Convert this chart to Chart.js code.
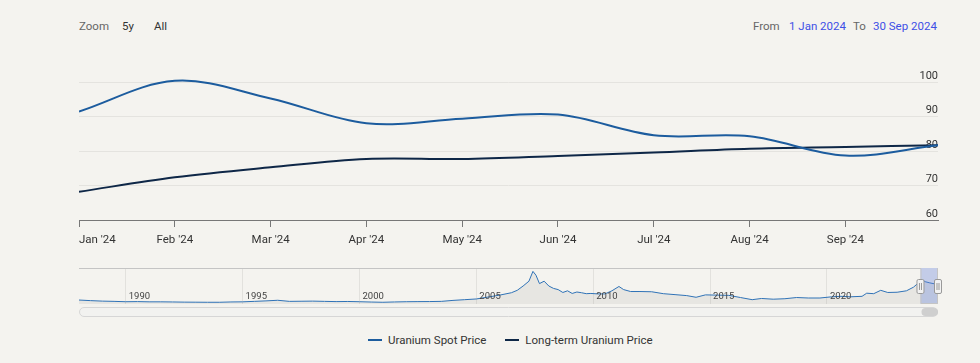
<!DOCTYPE html>
<html>
<head>
<meta charset="utf-8">
<script src="https://cdn.jsdelivr.net/npm/chart.js@4.4.1/dist/chart.umd.min.js"></script>
<style>
  body { margin: 0; background: #f4f3ef; font-family: Roboto, "Noto Sans", sans-serif; }
  #wrap { position: relative; width: 980px; height: 363px; overflow: hidden; }
  canvas { position: absolute; left: 0; }
  .t { position: absolute; font-size: 11.5px; white-space: nowrap; line-height: 14px; }
  .legend { position: absolute; top: 333px; left: 368px; display: flex; font-size: 11.5px; color: #333; line-height: 14px; }
  .legend span.item { display: flex; align-items: center; margin-right: 19px; }
  .legend i { display: inline-block; width: 14px; height: 2px; margin-right: 6px; }
</style>
</head>
<body>
<div id="wrap">
  <span class="t" style="left:79px;top:19px;color:#666">Zoom</span>
  <span class="t" style="left:122px;top:19px;color:#333">5y</span>
  <span class="t" style="left:154px;top:19px;color:#333">All</span>
  <span class="t" style="left:753px;top:19px;color:#666">From</span>
  <span class="t" style="left:789px;top:19px;color:#3d50e6">1 Jan 2024</span>
  <span class="t" style="left:853px;top:19px;color:#666">To</span>
  <span class="t" style="left:873px;top:19px;color:#3d50e6">30 Sep 2024</span>

  <canvas id="main" width="980" height="250" style="top:0"></canvas>
  <canvas id="nav" width="980" height="60" style="top:262px"></canvas>

  <div class="legend">
    <span class="item"><i style="background:#1c5c9e"></i>Uranium Spot Price</span>
    <span class="item"><i style="background:#0e2747"></i>Long-term Uranium Price</span>
  </div>
</div>

<script>
// main chart data (monthly, 2024)
const monthLabels = ["Jan '24", "Feb '24", "Mar '24", "Apr '24", "May '24", "Jun '24", "Jul '24", "Aug '24", "Sep '24"];
const pointDates = ['2024-01-01', '2024-02-01', '2024-03-01', '2024-04-01', '2024-05-01',
                    '2024-06-01', '2024-07-01', '2024-08-01', '2024-09-01', '2024-09-30'];
const spotPrice = [91.5, 100.4, 95.3, 88.1, 89.4, 90.6, 84.6, 84.3, 78.7, 81.7];
const longTermPrice = [68.2, 72.4, 75.3, 77.7, 77.7, 78.6, 79.6, 80.7, 81.2, 81.7];
const yTicks = [60, 70, 80, 90, 100];

// navigator: spot price history (decimal year, USD/lb)
const navYears = [1988.0, 1988.5, 1989.0, 1989.5, 1990.0, 1990.5, 1991.0, 1991.5, 1992.0, 1992.5,
  1993.0, 1993.5, 1994.0, 1994.5, 1995.0, 1995.5, 1996.0, 1996.5, 1997.0, 1997.5,
  1998.0, 1998.5, 1999.0, 1999.5, 2000.0, 2000.5, 2001.0, 2001.5, 2002.0, 2002.5,
  2003.0, 2003.5, 2004.0, 2004.5, 2005.0, 2005.5, 2006.0, 2006.5, 2006.75, 2007.0,
  2007.25, 2007.42, 2007.55, 2007.7, 2007.9, 2008.1, 2008.3, 2008.5, 2008.7, 2008.9,
  2009.1, 2009.3, 2009.5, 2009.7, 2009.9, 2010.2, 2010.5, 2010.8, 2011.1, 2011.3,
  2011.6, 2012.0, 2012.5, 2013.0, 2013.5, 2014.0, 2014.4, 2014.8, 2015.3, 2015.8,
  2016.3, 2016.8, 2017.2, 2017.7, 2018.2, 2018.7, 2019.2, 2019.7, 2020.2, 2020.6,
  2021.0, 2021.5, 2021.7, 2022.0, 2022.3, 2022.6, 2023.0, 2023.4, 2023.7, 2023.95,
  2024.08, 2024.2, 2024.4, 2024.6, 2024.75];
const navValues = [16.5, 14, 12, 11, 9.5, 10, 9, 9, 8.5, 7.8,
  7.5, 7.2, 7.2, 8.5, 9, 11, 13, 15.5, 11, 11.5,
  12, 11, 10, 10.5, 9.5, 8.2, 7.2, 8.5, 9.5, 9.9,
  10.2, 11, 15, 18, 21, 29, 37, 47, 57, 75,
  95, 136, 120, 85, 95, 75, 65, 60, 48, 55,
  44, 50, 47, 43, 44, 42, 42, 55, 73, 60,
  52, 52, 51, 43, 39, 35, 28, 38, 37, 36,
  27, 18, 23, 20, 22, 27, 25, 25, 30, 32,
  30, 32, 45, 43, 57, 48, 49, 55, 70, 91,
  100, 93, 88, 84, 82];
const navTickYears = [1990, 1995, 2000, 2005, 2010, 2015, 2020];
const rangeStart = 2024.0;
const rangeEnd = 2024.75;

// position of a date on the monthly axis (month index + fraction)
function monthPos(d) {
  const [y, m, day] = d.split('-').map(Number);
  const daysIn = new Date(y, m, 0).getDate();
  return (m - 1) + (day - 1) / daysIn;
}

const xs = pointDates.map(monthPos);
const toPoints = vals => vals.map((v, i) => ({ x: xs[i], y: v }));

const monthLabelsPlugin = {
  id: 'monthLabels',
  afterDraw(chart) {
    const ctx = chart.ctx;
    const sx = chart.scales.x;
    ctx.save();
    ctx.font = '11.5px Roboto';
    ctx.fillStyle = '#333';
    ctx.textBaseline = 'middle';
    sx.ticks.forEach((t, i) => {
      ctx.textAlign = i === 0 ? 'left' : 'center';
      ctx.fillText(monthLabels[i], sx.getPixelForValue(t.value), sx.bottom + 13);
    });
    ctx.restore();
  }
};

new Chart(document.getElementById('main'), {
  type: 'line',
  data: {
    datasets: [
      {
        label: 'Uranium Spot Price',
        data: toPoints(spotPrice),
        borderColor: '#1c5c9e',
        borderWidth: 2,
        pointRadius: 0,
        tension: 0.35
      },
      {
        label: 'Long-term Uranium Price',
        data: toPoints(longTermPrice),
        borderColor: '#0e2747',
        borderWidth: 2,
        pointRadius: 0,
        tension: 0.35
      }
    ]
  },
  options: {
    responsive: false,
    animation: false,
    layout: { padding: { left: 79, right: 42, top: 65, bottom: 23 } },
    plugins: { legend: { display: false }, tooltip: { enabled: false } },
    scales: {
      x: {
        type: 'linear',
        min: 0,
        max: xs[xs.length - 1],
        afterBuildTicks: s => { s.ticks = monthLabels.map((_, i) => ({ value: i })); },
        ticks: { display: false },
        grid: { drawOnChartArea: false, drawTicks: true, tickLength: 7, color: '#777' },
        border: { color: '#777', width: 1 }
      },
      y: {
        position: 'right',
        min: 60,
        max: 105,
        afterBuildTicks: s => { s.ticks = yTicks.map(v => ({ value: v })); },
        ticks: { mirror: true, padding: 0, labelOffset: -6, color: '#333', font: { family: 'Roboto', size: 11 } },
        grid: { color: '#e4e3df', drawTicks: false },
        border: { display: false }
      }
    }
  },
  plugins: [monthLabelsPlugin]
});

function roundRect(ctx, x, y, w, h, r) {
  ctx.beginPath();
  ctx.moveTo(x + r, y);
  ctx.arcTo(x + w, y, x + w, y + h, r);
  ctx.arcTo(x + w, y + h, x, y + h, r);
  ctx.arcTo(x, y + h, x, y, r);
  ctx.arcTo(x, y, x + w, y, r);
  ctx.closePath();
}

const navigatorPlugin = {
  id: 'navigatorExtras',
  afterDatasetsDraw(chart) {
    const ctx = chart.ctx;
    const sx = chart.scales.x;
    const { left, right, top, bottom } = chart.chartArea;
    const m0 = sx.getPixelForValue(rangeStart);
    const m1 = sx.getPixelForValue(rangeEnd);
    ctx.save();
    // year labels
    ctx.font = '9.5px Roboto';
    ctx.fillStyle = '#444';
    ctx.textBaseline = 'middle';
    ctx.textAlign = 'left';
    navTickYears.forEach(yr => ctx.fillText(String(yr), sx.getPixelForValue(yr) + 3, bottom - 7));
    // mask
    ctx.fillStyle = 'rgba(102,133,220,0.35)';
    ctx.fillRect(m0, top, m1 - m0, bottom - top);
    // outline
    ctx.strokeStyle = '#c4c4c4';
    ctx.lineWidth = 1;
    ctx.beginPath();
    ctx.moveTo(left, top + 0.5);
    ctx.lineTo(m0 + 0.5, top + 0.5);
    ctx.lineTo(m0 + 0.5, bottom - 0.5);
    ctx.lineTo(m1 - 0.5, bottom - 0.5);
    ctx.lineTo(m1 - 0.5, top + 0.5);
    ctx.lineTo(right, top + 0.5);
    ctx.stroke();
    // handles
    [m0, m1].forEach(px => {
      ctx.fillStyle = '#f2f2f2';
      ctx.strokeStyle = '#999';
      roundRect(ctx, px - 3.5, top + 11.5, 7, 14, 1.5);
      ctx.fill();
      ctx.stroke();
      ctx.beginPath();
      ctx.moveTo(px - 1, top + 15); ctx.lineTo(px - 1, top + 22);
      ctx.moveTo(px + 1, top + 15); ctx.lineTo(px + 1, top + 22);
      ctx.stroke();
    });
    // scrollbar
    ctx.fillStyle = '#f2f2f0';
    ctx.strokeStyle = '#d6d6d6';
    roundRect(ctx, left + 0.5, bottom + 3.5, right - left - 1, 9, 4.5);
    ctx.fill();
    ctx.stroke();
    ctx.fillStyle = '#cfcfcf';
    roundRect(ctx, m0 + 1, bottom + 4, m1 - m0 - 1, 8, 4);
    ctx.fill();
    ctx.restore();
  }
};

new Chart(document.getElementById('nav'), {
  type: 'line',
  data: {
    datasets: [{
      data: navYears.map((yr, i) => ({ x: yr, y: navValues[i] })),
      borderColor: '#2f72b6',
      borderWidth: 1,
      backgroundColor: 'rgba(120,120,120,0.10)',
      fill: 'origin',
      pointRadius: 0,
      tension: 0
    }]
  },
  options: {
    responsive: false,
    animation: false,
    layout: { padding: { left: 79, right: 42, top: 6, bottom: 18 } },
    plugins: { legend: { display: false }, tooltip: { enabled: false } },
    scales: {
      x: {
        type: 'linear',
        min: 1988.0,
        max: rangeEnd,
        afterBuildTicks: s => { s.ticks = navTickYears.map(v => ({ value: v })); },
        ticks: { display: false },
        grid: { color: '#e2e1dd', drawTicks: false },
        border: { display: false }
      },
      y: {
        display: false,
        min: 0,
        max: 150
      }
    }
  },
  plugins: [navigatorPlugin]
});
</script>
</body>
</html>
